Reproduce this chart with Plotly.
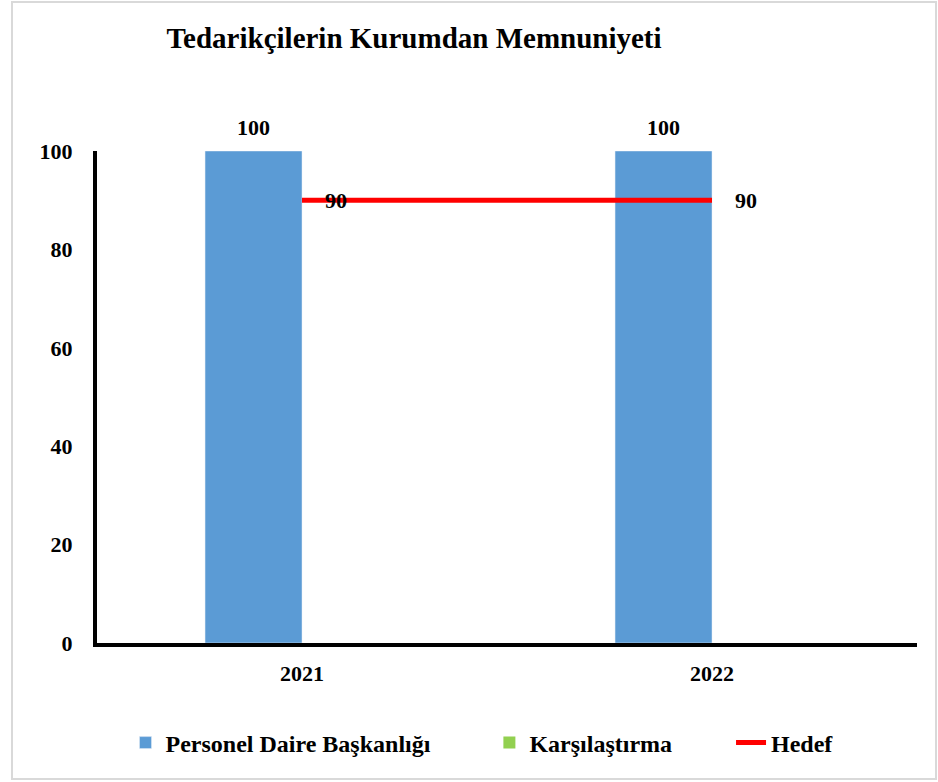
import plotly.graph_objects as go

years = ["2021", "2022"]
personel = [100, 100]
karsilastirma = [0, 0]
hedef = [90, 90]

FONT = "Liberation Serif"
W, H = 938, 782
L, R, T, B = 97, 21, 151, 139
pw, ph = W - L - R, H - T - B
PAD = "&nbsp;" * 9

def px_x(p):
    return (p - L) / pw

def px_y(p):
    return (H - B - p) / ph

fig = go.Figure()
fig.add_trace(go.Bar(x=years, y=personel, name="<b>Personel Daire Başkanlığı</b>" + PAD,
                     marker=dict(color="#5B9BD5")))
fig.add_trace(go.Bar(x=years, y=karsilastirma, name="<b>Karşılaştırma</b>" + PAD,
                     marker=dict(color="#92D050", line=dict(width=0))))
fig.add_trace(go.Scatter(x=years, y=hedef, name="<b>Hedef</b>", mode="lines",
                         line=dict(color="#FF0000", width=5)))

annotations = []
for i, v in enumerate(personel):
    annotations.append(dict(x=i, y=v, xref="x", yref="y", text=f"<b>{v}</b>", showarrow=False,
                            xshift=-49, yshift=24, font=dict(family=FONT, size=22, color="black")))
for i, v in enumerate(hedef):
    annotations.append(dict(x=i, y=v, xref="x", yref="y", text=f"<b>{v}</b>", showarrow=False,
                            xshift=34, yshift=0, font=dict(family=FONT, size=22, color="black")))

fig.update_layout(
    width=W, height=H,
    margin=dict(l=L, r=R, t=T, b=B),
    paper_bgcolor="white", plot_bgcolor="white",
    barmode="group", bargap=0.527, bargroupgap=0,
    title=dict(text="<b>Tedarikçilerin Kurumdan Memnuniyeti</b>",
               x=414 / W, xanchor="center",
               y=1 - 38 / H, yanchor="middle",
               font=dict(family=FONT, size=29, color="black")),
    font=dict(family=FONT, color="black"),
    legend=dict(orientation="h", x=px_x(482), xanchor="center",
                y=px_y(743), yanchor="middle",
                font=dict(family=FONT, size=24, color="black"),
                traceorder="normal"),
    annotations=annotations,
    shapes=[dict(type="rect", xref="paper", yref="paper",
                 x0=px_x(12), x1=px_x(936), y0=px_y(779), y1=px_y(2),
                 line=dict(color="#D9D9D9", width=2), layer="below")],
)
fig.update_xaxes(type="category", showline=True, linecolor="black", linewidth=4, showgrid=False,
                 ticks="outside", ticklen=8, tickcolor="rgba(0,0,0,0)",
                 tickfont=dict(family=FONT, size=22, color="black"),
                 tickprefix="<b>", ticksuffix="</b>")
fig.update_yaxes(range=[0, 100], dtick=20, showline=True, linecolor="black", linewidth=4,
                 showgrid=False, zeroline=False,
                 ticks="outside", ticklen=16, tickcolor="rgba(0,0,0,0)",
                 tickfont=dict(family=FONT, size=22, color="black"),
                 tickprefix="<b>", ticksuffix="</b>")

fig.write_html("out.html", config={"displayModeBar": False},
               post_script="document.body.style.margin='0';")
